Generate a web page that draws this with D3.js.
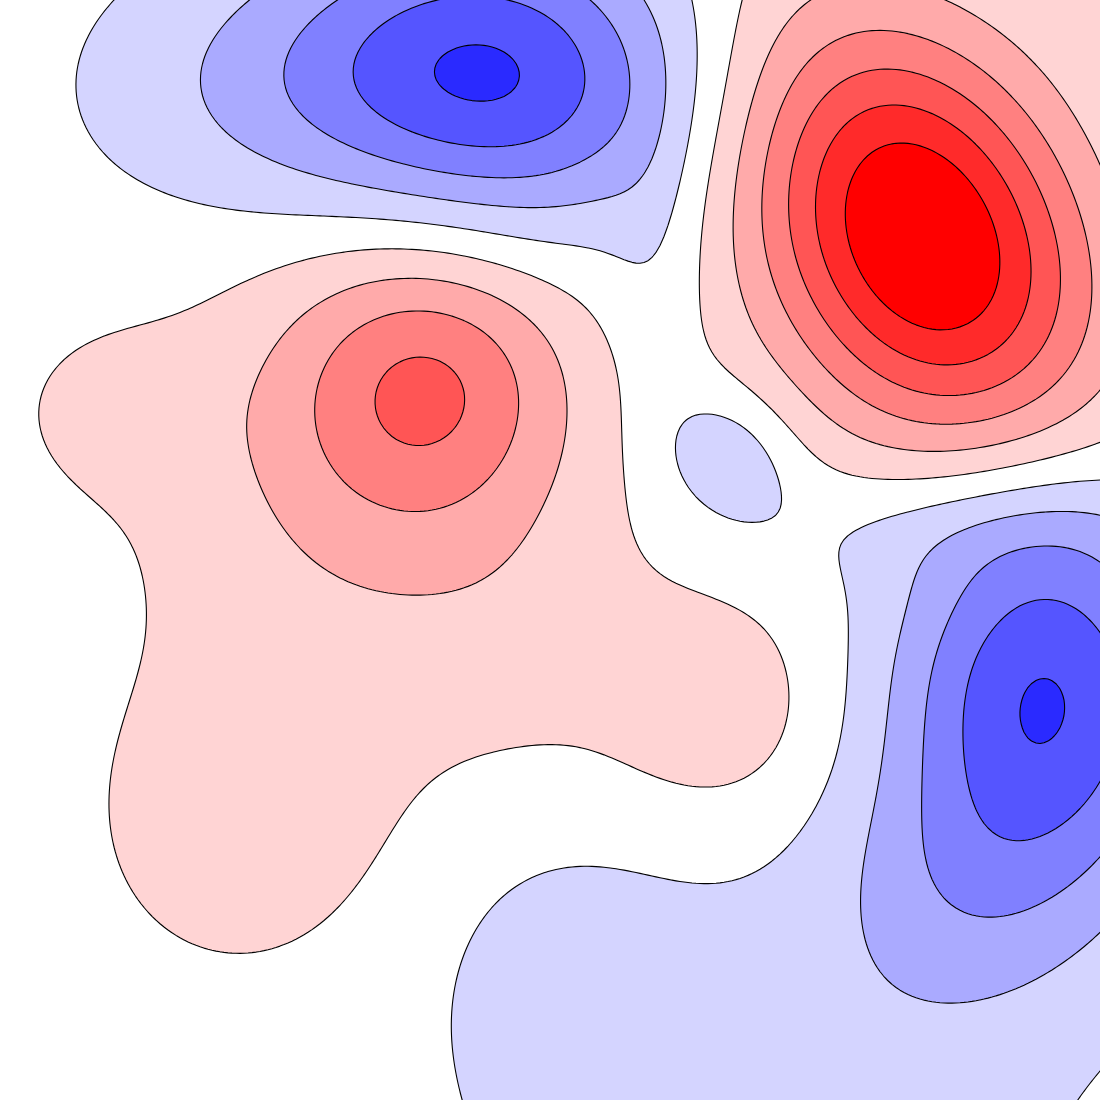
<!DOCTYPE html>
<html>
<head>
<meta charset="utf-8">
<style>
  html, body { margin: 0; padding: 0; background: #ffffff; }
  svg { display: block; }
</style>
<script src="https://cdn.jsdelivr.net/npm/d3@7"></script>
</head>
<body>
<div id="chart"></div>
<script>
// Field described as a sum of smooth bumps
const bumpName  = ["A", "Q", "B", "B2", "V", "C", "C2", "N", "D", "D2", "J", "E", "F", "K", "G", "H", "L", "I"];
const bumpX     = [922, 1160, 500, 280, 655, 1045, 950, 960, 770, 560, 1180, 430, 370, 110, 250, 725, 540, 728];
const bumpY     = [238, -40, 75, 90, 270, 695, 890, 528, 1100, 960, 1180, 382, 470, 410, 820, 712, 650, 457];
const bumpAmp   = [6.8, 0.4, -4.3, -1.4, -0.55, -4.55, -1.0, -0.7, -1.2, -0.6, 0.35, 2.6, 1.5, 0.6, 1.0, 1.1, 0.5, -1.4];
const bumpSx    = [158, 90, 135, 140, 35, 105, 90, 145, 220, 80, 70, 95, 155, 70, 115, 80, 100, 50];
const bumpSy    = [110, 90, 103, 95, 120, 145, 90, 45, 170, 80, 70, 95, 155, 60, 120, 80, 100, 42];
const bumpAngle = [62, 0, 8, 0, 0, 0, 0, 0, 0, 0, 0, 0, 0, 0, 0, 0, 0, 45];

// Contour levels and band colours
const levels     = [0.5, 1.5, 2.5, 3.5, 4.5, 5.5];
const redColors  = ["#ffd4d4", "#ffaaaa", "#ff8080", "#ff5555", "#ff2a2a", "#ff0000"];
const blueColors = ["#d4d4ff", "#aaaaff", "#8080ff", "#5555ff", "#2a2aff", "#0000ff"];

const W = 1100, H = 1100;
const x = d3.scaleLinear().domain([0, 1100]).range([0, W]);
const y = d3.scaleLinear().domain([0, 1100]).range([0, H]);

function field(px, py) {
  let s = 0;
  for (let k = 0; k < bumpX.length; k++) {
    const a = bumpAngle[k] * Math.PI / 180;
    const dx = px - bumpX[k], dy = py - bumpY[k];
    const u = dx * Math.cos(a) + dy * Math.sin(a);
    const v = -dx * Math.sin(a) + dy * Math.cos(a);
    s += bumpAmp[k] * Math.exp(-0.5 * ((u / bumpSx[k]) ** 2 + (v / bumpSy[k]) ** 2));
  }
  return s;
}

// sample on a grid that extends past the visible area
const step = 4, x0 = -40, y0 = -40, n = 296, m = 296;
const vals = new Float64Array(n * m);
const neg = new Float64Array(n * m);
for (let j = 0; j < m; j++) {
  for (let i = 0; i < n; i++) {
    const v = field(x0 + i * step, y0 + j * step);
    vals[i + j * n] = v;
    neg[i + j * n] = -v;
  }
}

const proj = d3.geoTransform({
  point: function (cx, cy) {
    this.stream.point(x(x0 + (cx - 0.5) * step), y(y0 + (cy - 0.5) * step));
  }
});
const path = d3.geoPath(proj);

const svg = d3.select("#chart").append("svg")
  .attr("width", W).attr("height", H)
  .attr("viewBox", `0 0 ${W} ${H}`);
svg.append("rect").attr("width", W).attr("height", H).attr("fill", "#ffffff");

const posC = d3.contours().size([n, m]).thresholds(levels)(vals);
const negC = d3.contours().size([n, m]).thresholds(levels)(neg);

const gPos = svg.append("g");
gPos.selectAll("path").data(posC).join("path")
  .attr("d", path)
  .attr("fill", (d, i) => redColors[i])
  .attr("stroke", "#000")
  .attr("stroke-width", 1.1)
  .attr("stroke-linejoin", "round");

const gNeg = svg.append("g");
gNeg.selectAll("path").data(negC).join("path")
  .attr("d", path)
  .attr("fill", (d, i) => blueColors[i])
  .attr("stroke", "#000")
  .attr("stroke-width", 1.1)
  .attr("stroke-linejoin", "round");
</script>
</body>
</html>
